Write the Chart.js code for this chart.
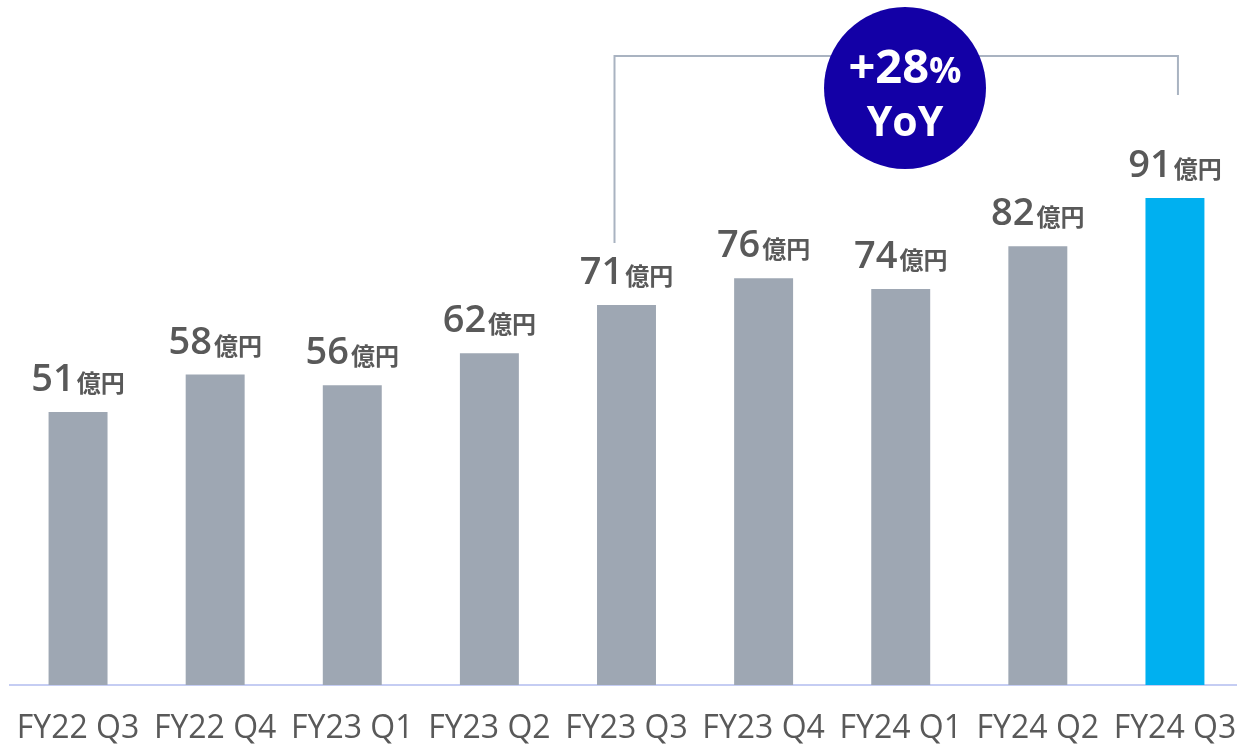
<!DOCTYPE html>
<html>
<head>
<meta charset="utf-8">
<script src="https://cdn.jsdelivr.net/npm/chart.js@4"></script>
<style>
  html, body { margin: 0; padding: 0; background: #fff; overflow: hidden; }
  #wrap { width: 1253px; height: 750px; }
</style>
</head>
<body>
<div id="wrap"><canvas id="salesChart" width="1253" height="750"></canvas></div>
<script>
const quarters = ['FY22 Q3', 'FY22 Q4', 'FY23 Q1', 'FY23 Q2', 'FY23 Q3', 'FY23 Q4', 'FY24 Q1', 'FY24 Q2', 'FY24 Q3'];
const sales = [51, 58, 56, 62, 71, 76, 74, 82, 91];
const unitLabel = '億円';
const growthText = ['+28', '%', 'YoY'];
const yoyFrom = 4;
const yoyTo = 8;

const barColors = sales.map((_, i) => (i === sales.length - 1 ? '#00b0f0' : '#9ea7b3'));

const labelPlugin = {
    id: 'valueLabels',
    afterDatasetsDraw(chart) {
        const { ctx } = chart;
        const bars = chart.getDatasetMeta(0).data;
        ctx.save();
        ctx.textBaseline = 'alphabetic';
        ctx.textAlign = 'left';
        bars.forEach((bar, i) => {
            const num = String(sales[i]);
            ctx.font = '600 38px "Open Sans"';
            const w1 = ctx.measureText(num).width;
            ctx.font = 'bold 24px "Noto Sans CJK JP"';
            const w2 = ctx.measureText(unitLabel).width;
            const x0 = bar.x - (w1 + 2 + w2) / 2;
            const y = bar.y - 21;
            ctx.fillStyle = '#595959';
            ctx.font = '600 38px "Open Sans"';
            ctx.fillText(num, x0, y);
            ctx.font = 'bold 24px "Noto Sans CJK JP"';
            ctx.fillText(unitLabel, x0 + w1 + 2, y + 1);
        });

        // YoY bracket
        const a = bars[yoyFrom];
        const b = bars[yoyTo];
        const lx = a.x - 12;
        const rx = b.x + 3;
        const top = 56;
        ctx.strokeStyle = '#a9b3c1';
        ctx.lineWidth = 2;
        ctx.beginPath();
        ctx.moveTo(lx, a.y - 62);
        ctx.lineTo(lx, top);
        ctx.lineTo(rx, top);
        ctx.lineTo(rx, 95);
        ctx.stroke();

        // growth badge
        const cx = 905;
        const cy = 88;
        ctx.fillStyle = '#1300a6';
        ctx.beginPath();
        ctx.arc(cx, cy, 81, 0, Math.PI * 2);
        ctx.fill();
        ctx.fillStyle = '#ffffff';
        ctx.font = 'bold 47px "Open Sans"';
        const wa = ctx.measureText(growthText[0]).width;
        ctx.font = 'bold 36px "Open Sans"';
        const wb = ctx.measureText(growthText[1]).width;
        const sx = cx - (wa + wb) / 2;
        ctx.font = 'bold 47px "Open Sans"';
        ctx.fillText(growthText[0], sx, 83);
        ctx.font = 'bold 36px "Open Sans"';
        ctx.fillText(growthText[1], sx + wa, 83);
        ctx.textAlign = 'center';
        ctx.font = 'bold 41px "Open Sans"';
        ctx.fillText(growthText[2], cx, 136);
        ctx.restore();
    },
};

new Chart(document.getElementById('salesChart'), {
    type: 'bar',
    data: {
        labels: quarters,
        datasets: [
            {
                data: sales,
                backgroundColor: barColors,
                borderWidth: 0,
                categoryPercentage: 1,
                barPercentage: 0.43,
            },
        ],
    },
    options: {
        responsive: false,
        animation: false,
        layout: { padding: { left: 6, right: 0, top: 0, bottom: 0 } },
        plugins: { legend: { display: false }, tooltip: { enabled: false } },
        scales: {
            y: { display: false, min: 0, max: 128 },
            x: {
                grid: { display: false },
                border: { color: '#c5cdf3', width: 2 },
                ticks: {
                    color: '#595959',
                    font: { family: 'Open Sans', size: 32 },
                    padding: 17,
                    maxRotation: 0,
                    autoSkip: false,
                },
                afterFit: (scale) => { scale.height = 65; },
            },
        },
    },
    plugins: [labelPlugin],
});
</script>
</body>
</html>
